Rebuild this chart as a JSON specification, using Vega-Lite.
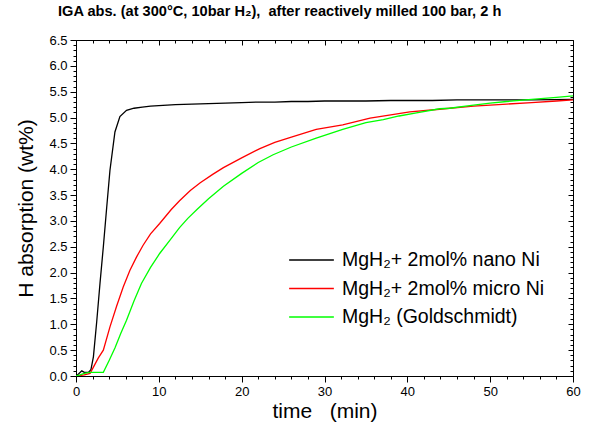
{
  "$schema": "https://vega.github.io/schema/vega-lite/v6.json",
  "width": 497,
  "height": 336,
  "autosize": {"type": "none"},
  "padding": {"left": 76, "top": 40, "right": 26, "bottom": 50},
  "config": {
    "font": "Liberation Sans",
    "view": {"stroke": null},
    "axis": {"grid": false, "domainColor": "black", "tickColor": "black", "labelColor": "black", "titleColor": "black", "domainWidth": 1, "tickWidth": 1, "labelFlush": false}
  },
  "title": {"text": "IGA abs. (at 300°C, 10bar H₂),\u00a0 after reactively milled 100 bar, 2 h", "fontSize": 14.6, "fontWeight": "bold", "anchor": "start", "frame": "group", "dx": -18, "offset": 15, "color": "black"},
  "data": {"values": [
    {"s": "nano", "t": 0, "h": 0},
    {"s": "nano", "t": 0.3, "h": 0.04},
    {"s": "nano", "t": 0.7, "h": 0.1},
    {"s": "nano", "t": 1.0, "h": 0.07},
    {"s": "nano", "t": 1.5, "h": 0.07},
    {"s": "nano", "t": 1.8, "h": 0.12},
    {"s": "nano", "t": 2.1, "h": 0.37},
    {"s": "nano", "t": 2.5, "h": 1.05},
    {"s": "nano", "t": 2.9, "h": 1.8},
    {"s": "nano", "t": 3.3, "h": 2.5},
    {"s": "nano", "t": 3.7, "h": 3.25},
    {"s": "nano", "t": 4.1, "h": 3.98},
    {"s": "nano", "t": 4.7, "h": 4.72},
    {"s": "nano", "t": 5.3, "h": 5.02},
    {"s": "nano", "t": 6.1, "h": 5.14},
    {"s": "nano", "t": 7.0, "h": 5.18},
    {"s": "nano", "t": 8.0, "h": 5.2},
    {"s": "nano", "t": 9.0, "h": 5.22},
    {"s": "nano", "t": 10.0, "h": 5.23},
    {"s": "nano", "t": 12.0, "h": 5.25},
    {"s": "nano", "t": 14.0, "h": 5.26},
    {"s": "nano", "t": 16.0, "h": 5.27},
    {"s": "nano", "t": 18.0, "h": 5.28},
    {"s": "nano", "t": 20.0, "h": 5.29},
    {"s": "nano", "t": 22.0, "h": 5.3},
    {"s": "nano", "t": 24.0, "h": 5.3},
    {"s": "nano", "t": 26.0, "h": 5.31},
    {"s": "nano", "t": 28.0, "h": 5.31},
    {"s": "nano", "t": 30.0, "h": 5.32},
    {"s": "nano", "t": 32.0, "h": 5.32},
    {"s": "nano", "t": 35.0, "h": 5.32},
    {"s": "nano", "t": 38.0, "h": 5.33},
    {"s": "nano", "t": 40.0, "h": 5.33},
    {"s": "nano", "t": 43.0, "h": 5.33},
    {"s": "nano", "t": 46.0, "h": 5.34},
    {"s": "nano", "t": 50.0, "h": 5.34},
    {"s": "nano", "t": 55.0, "h": 5.34},
    {"s": "nano", "t": 60.0, "h": 5.35},
    {"s": "micro", "t": 0, "h": 0},
    {"s": "micro", "t": 0.5, "h": 0.01},
    {"s": "micro", "t": 1.0, "h": 0.02},
    {"s": "micro", "t": 1.7, "h": 0.05},
    {"s": "micro", "t": 2.2, "h": 0.2},
    {"s": "micro", "t": 2.7, "h": 0.35},
    {"s": "micro", "t": 3.3, "h": 0.5},
    {"s": "micro", "t": 4.1, "h": 0.95},
    {"s": "micro", "t": 4.9, "h": 1.35},
    {"s": "micro", "t": 5.7, "h": 1.72},
    {"s": "micro", "t": 6.5, "h": 2.04},
    {"s": "micro", "t": 7.3, "h": 2.3},
    {"s": "micro", "t": 8.1, "h": 2.53},
    {"s": "micro", "t": 9.0, "h": 2.75},
    {"s": "micro", "t": 10.1, "h": 2.95},
    {"s": "micro", "t": 11.5, "h": 3.22},
    {"s": "micro", "t": 12.5, "h": 3.39},
    {"s": "micro", "t": 13.8, "h": 3.59},
    {"s": "micro", "t": 15.0, "h": 3.74},
    {"s": "micro", "t": 16.5, "h": 3.9},
    {"s": "micro", "t": 17.8, "h": 4.03},
    {"s": "micro", "t": 20.0, "h": 4.22},
    {"s": "micro", "t": 22.2, "h": 4.4},
    {"s": "micro", "t": 24.0, "h": 4.52},
    {"s": "micro", "t": 26.0, "h": 4.62},
    {"s": "micro", "t": 29.0, "h": 4.77},
    {"s": "micro", "t": 32.2, "h": 4.86},
    {"s": "micro", "t": 35.5, "h": 4.99},
    {"s": "micro", "t": 38.0, "h": 5.05},
    {"s": "micro", "t": 40.3, "h": 5.11},
    {"s": "micro", "t": 43.9, "h": 5.16},
    {"s": "micro", "t": 45.1, "h": 5.18},
    {"s": "micro", "t": 48.0, "h": 5.22},
    {"s": "micro", "t": 50.0, "h": 5.24},
    {"s": "micro", "t": 52.0, "h": 5.26},
    {"s": "micro", "t": 55.0, "h": 5.29},
    {"s": "micro", "t": 58.0, "h": 5.32},
    {"s": "micro", "t": 60.0, "h": 5.34},
    {"s": "gold", "t": 0, "h": 0},
    {"s": "gold", "t": 0.5, "h": 0.02},
    {"s": "gold", "t": 1.0, "h": 0.05},
    {"s": "gold", "t": 1.7, "h": 0.07},
    {"s": "gold", "t": 3.3, "h": 0.07},
    {"s": "gold", "t": 4.0, "h": 0.3},
    {"s": "gold", "t": 4.7, "h": 0.54},
    {"s": "gold", "t": 5.4, "h": 0.82},
    {"s": "gold", "t": 6.1, "h": 1.08},
    {"s": "gold", "t": 7.0, "h": 1.45},
    {"s": "gold", "t": 7.9, "h": 1.79},
    {"s": "gold", "t": 9.0, "h": 2.1},
    {"s": "gold", "t": 10.1, "h": 2.37},
    {"s": "gold", "t": 11.3, "h": 2.62},
    {"s": "gold", "t": 12.5, "h": 2.87},
    {"s": "gold", "t": 13.5, "h": 3.05},
    {"s": "gold", "t": 14.6, "h": 3.22},
    {"s": "gold", "t": 16.0, "h": 3.43},
    {"s": "gold", "t": 17.8, "h": 3.67},
    {"s": "gold", "t": 20.0, "h": 3.92},
    {"s": "gold", "t": 22.0, "h": 4.13},
    {"s": "gold", "t": 23.8, "h": 4.28},
    {"s": "gold", "t": 26.0, "h": 4.43},
    {"s": "gold", "t": 29.0, "h": 4.6},
    {"s": "gold", "t": 32.2, "h": 4.77},
    {"s": "gold", "t": 35.0, "h": 4.9},
    {"s": "gold", "t": 37.1, "h": 4.96},
    {"s": "gold", "t": 39.0, "h": 5.03},
    {"s": "gold", "t": 41.1, "h": 5.09},
    {"s": "gold", "t": 43.9, "h": 5.17},
    {"s": "gold", "t": 45.1, "h": 5.18},
    {"s": "gold", "t": 48.0, "h": 5.24},
    {"s": "gold", "t": 50.0, "h": 5.28},
    {"s": "gold", "t": 52.0, "h": 5.31},
    {"s": "gold", "t": 55.0, "h": 5.35},
    {"s": "gold", "t": 58.0, "h": 5.39},
    {"s": "gold", "t": 60.0, "h": 5.42}
  ]},
  "resolve": {"axis": {"x": "independent", "y": "independent"}},
  "layer": [
    {
      "mark": {"type": "line", "strokeWidth": 1.3, "clip": true},
      "encoding": {
        "x": {"field": "t", "type": "quantitative", "scale": {"domain": [0, 60], "nice": false},
          "axis": {"orient": "bottom", "values": [0, 10, 20, 30, 40, 50, 60], "tickSize": 6, "labelFontSize": 13, "labelPadding": 3, "title": "time\u00a0\u00a0 (min)", "titleFontSize": 21, "titleFontWeight": "normal", "titlePadding": 2}},
        "y": {"field": "h", "type": "quantitative", "scale": {"domain": [0, 6.5], "nice": false, "zero": false},
          "axis": {"orient": "left", "values": [0, 0.5, 1, 1.5, 2, 2.5, 3, 3.5, 4, 4.5, 5, 5.5, 6, 6.5], "format": ".1f", "tickSize": 6, "labelFontSize": 13, "labelPadding": 3, "title": "H absorption (wt%)", "titleFontSize": 21, "titleFontWeight": "normal", "titlePadding": 12}},
        "color": {"field": "s", "type": "nominal",
          "scale": {"domain": ["nano", "micro", "gold"], "range": ["#000000", "#ff0000", "#00ff00"]},
          "legend": {"orient": "none", "legendX": 212, "legendY": 208, "title": null, "symbolType": "stroke", "symbolSize": 2000, "symbolStrokeWidth": 1.3, "labelFontSize": 19.5, "labelLimit": 400, "labelColor": "black", "labelOffset": 7, "clipHeight": 24, "rowPadding": 4.5,
            "labelExpr": "datum.value == 'nano' ? 'MgH₂+ 2mol% nano Ni' : datum.value == 'micro' ? 'MgH₂+ 2mol% micro Ni' : 'MgH₂ (Goldschmidt)'"}}
      }
    },
    {
      "mark": {"type": "line", "opacity": 0},
      "encoding": {
        "detail": {"field": "s"},
        "x": {"field": "t", "type": "quantitative", "axis": {"orient": "bottom", "values": [2, 4, 6, 8, 12, 14, 16, 18, 22, 24, 26, 28, 32, 34, 36, 38, 42, 44, 46, 48, 52, 54, 56, 58], "tickSize": 3, "labels": false, "domain": false, "title": null}},
        "y": {"field": "h", "type": "quantitative", "axis": {"orient": "left", "values": [0.1, 0.2, 0.3, 0.4, 0.6, 0.7, 0.8, 0.9, 1.1, 1.2, 1.3, 1.4, 1.6, 1.7, 1.8, 1.9, 2.1, 2.2, 2.3, 2.4, 2.6, 2.7, 2.8, 2.9, 3.1, 3.2, 3.3, 3.4, 3.6, 3.7, 3.8, 3.9, 4.1, 4.2, 4.3, 4.4, 4.6, 4.7, 4.8, 4.9, 5.1, 5.2, 5.3, 5.4, 5.6, 5.7, 5.8, 5.9, 6.1, 6.2, 6.3, 6.4], "tickSize": 3, "labels": false, "domain": false, "title": null}}
      }
    },
    {
      "mark": {"type": "line", "opacity": 0},
      "encoding": {
        "detail": {"field": "s"},
        "x": {"field": "t", "type": "quantitative", "axis": {"orient": "top", "values": [0, 10, 20, 30, 40, 50, 60], "tickSize": -5, "labels": false, "title": null}},
        "y": {"field": "h", "type": "quantitative", "axis": {"orient": "right", "values": [0, 0.5, 1, 1.5, 2, 2.5, 3, 3.5, 4, 4.5, 5, 5.5, 6, 6.5], "tickSize": -5, "labels": false, "title": null}}
      }
    },
    {
      "mark": {"type": "line", "opacity": 0},
      "encoding": {
        "detail": {"field": "s"},
        "x": {"field": "t", "type": "quantitative", "axis": {"orient": "top", "values": [2, 4, 6, 8, 12, 14, 16, 18, 22, 24, 26, 28, 32, 34, 36, 38, 42, 44, 46, 48, 52, 54, 56, 58], "tickSize": -3, "labels": false, "domain": false, "title": null}},
        "y": {"field": "h", "type": "quantitative", "axis": {"orient": "right", "values": [0.1, 0.2, 0.3, 0.4, 0.6, 0.7, 0.8, 0.9, 1.1, 1.2, 1.3, 1.4, 1.6, 1.7, 1.8, 1.9, 2.1, 2.2, 2.3, 2.4, 2.6, 2.7, 2.8, 2.9, 3.1, 3.2, 3.3, 3.4, 3.6, 3.7, 3.8, 3.9, 4.1, 4.2, 4.3, 4.4, 4.6, 4.7, 4.8, 4.9, 5.1, 5.2, 5.3, 5.4, 5.6, 5.7, 5.8, 5.9, 6.1, 6.2, 6.3, 6.4], "tickSize": -3, "labels": false, "domain": false, "title": null}}
      }
    }
  ]
}
